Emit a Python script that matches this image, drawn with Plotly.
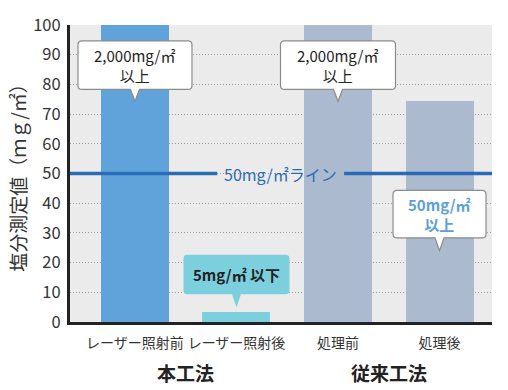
import plotly.graph_objects as go

# ---- data ----
categories = ["レーザー照射前", "レーザー照射後", "処理前", "処理後"]
values = [2000, 3.5, 2000, 74.5]          # bars 1 and 3 exceed the axis (2,000mg/㎡以上)
bar_colors = ["#5fa3da", "#7ccfdd", "#abbace", "#abbace"]
groups = ["本工法", "従来工法"]
threshold = 50
threshold_label = "50mg/㎡ライン"
y_ticks = list(range(0, 101, 10))
y_title = "塩分測定値（ｍｇ/㎡）"

callouts = [
    dict(i=0, tip=74.3, text="2,000mg/㎡<br>以上", w=114, h=49, ph=12,
         fill="white", line="#8c8c8c", color="#222222", bold=False),
    dict(i=2, tip=74.3, text="2,000mg/㎡<br>以上", w=115, h=49, ph=12,
         fill="white", line="#8c8c8c", color="#222222", bold=False),
    dict(i=3, tip=24.0, text="50mg/㎡<br>以上", w=93, h=48, ph=13,
         fill="white", line="#8c8c8c", color="#5a9fdb", bold=True),
    dict(i=1, tip=5.0, text="5mg/㎡ 以下", w=106, h=40, ph=13,
         fill="#7ccfdd", line="rgba(0,0,0,0)", color="#222222", bold=True),
]

FONT = "Noto Sans CJK JP"
X_RANGE = [-0.64, 3.517]
Y_RANGE = [0, 100]
SX = 422 / (X_RANGE[1] - X_RANGE[0])   # px per x unit
SY = 300 / (Y_RANGE[1] - Y_RANGE[0])   # px per y unit

fig = go.Figure()
fig.add_trace(go.Bar(
    x=list(range(len(categories))), y=values, width=0.67,
    marker=dict(color=bar_colors, line=dict(width=0)),
    hoverinfo="skip",
))

def bubble_path(xc, ytip, w, h, ph, hw=4.5, r=4):
    X = lambda px: xc + px / SX
    Y = lambda py: ytip + py / SY
    b = ph
    t = ph + h
    l = -w / 2
    rr = w / 2
    return (f"M {X(l+r)},{Y(t)} L {X(rr-r)},{Y(t)} Q {X(rr)},{Y(t)} {X(rr)},{Y(t-r)} "
            f"L {X(rr)},{Y(b+r)} Q {X(rr)},{Y(b)} {X(rr-r)},{Y(b)} "
            f"L {X(hw)},{Y(b)} L {X(0)},{Y(0)} L {X(-hw)},{Y(b)} "
            f"L {X(l+r)},{Y(b)} Q {X(l)},{Y(b)} {X(l)},{Y(b+r)} "
            f"L {X(l)},{Y(t-r)} Q {X(l)},{Y(t)} {X(l+r)},{Y(t)} Z")

shapes = []
annotations = []
for c in callouts:
    shapes.append(dict(type="path", xref="x", yref="y", layer="above",
                       path=bubble_path(c["i"], c["tip"], c["w"], c["h"], c["ph"]),
                       fillcolor=c["fill"], line=dict(color=c["line"], width=1.2)))
    yc = c["tip"] + (c["ph"] + c["h"] / 2) / SY
    annotations.append(dict(x=c["i"], y=yc, xref="x", yref="y", text=c["text"],
                            showarrow=False, xanchor="center", yanchor="middle",
                            font=dict(family=FONT, size=15, color=c["color"],
                                      weight="bold" if c["bold"] else "normal")))

# threshold line, interrupted by its label
gap = (0.81, 2.06)
line_color = "#2a6bb8"
shapes.append(dict(type="line", xref="x", yref="y", x0=X_RANGE[0], x1=gap[0],
                   y0=threshold, y1=threshold, layer="above",
                   line=dict(color=line_color, width=3.5)))
shapes.append(dict(type="line", xref="x", yref="y", x0=gap[1], x1=X_RANGE[1],
                   y0=threshold, y1=threshold, layer="above",
                   line=dict(color=line_color, width=3.5)))
annotations.append(dict(x=(gap[0] + gap[1]) / 2, y=threshold, xref="x", yref="y",
                        text=threshold_label, showarrow=False,
                        font=dict(family=FONT, size=16, color=line_color)))

# group labels
for gi, g in enumerate(groups):
    annotations.append(dict(x=2 * gi + 0.5, y=-0.17, xref="x", yref="paper", text=g,
                            showarrow=False, yanchor="middle",
                            font=dict(family=FONT, size=19, color="#222222", weight="bold")))

# y title
annotations.append(dict(x=-0.125, y=0.5, xref="paper", yref="paper", text=y_title,
                        showarrow=False, textangle=-90, xanchor="center", yanchor="middle",
                        font=dict(family=FONT, size=19, color="#333333")))

fig.update_layout(
    width=508, height=390,
    margin=dict(l=70, r=16, t=22, b=68),
    paper_bgcolor="white", plot_bgcolor="#ebebeb",
    showlegend=False, bargap=0,
    font=dict(family=FONT, color="#333333"),
    shapes=shapes, annotations=annotations,
    xaxis=dict(range=X_RANGE, tickvals=list(range(len(categories))), ticktext=categories,
               showgrid=False, zeroline=False, showline=True, linecolor="#222222",
               linewidth=3, ticks="", ticklabelstandoff=6,
               tickfont=dict(family=FONT, size=14, color="#333333"), fixedrange=True),
    yaxis=dict(range=Y_RANGE, tickvals=y_ticks, showgrid=True, gridcolor="#a0a0a0",
               griddash="1px,2px", gridwidth=1, zeroline=False, showline=True,
               linecolor="#222222", linewidth=3, ticks="", ticklabelstandoff=3,
               tickfont=dict(family=FONT, size=16.5, color="#333333"), fixedrange=True),
)

fig.write_html("out.html", config={"displayModeBar": False},
               post_script="document.body.style.margin='0px';")
